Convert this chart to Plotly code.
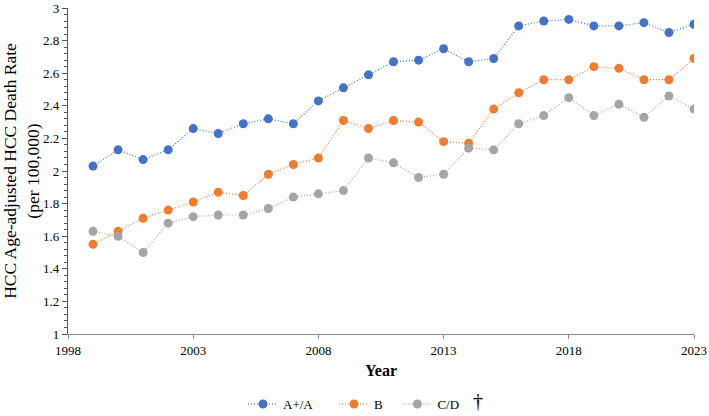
import plotly.graph_objects as go

years = list(range(1999, 2024))
a_vals = [2.03, 2.13, 2.07, 2.13, 2.26, 2.23, 2.29, 2.32, 2.29, 2.43, 2.51,
          2.59, 2.67, 2.68, 2.75, 2.67, 2.69, 2.89, 2.92, 2.93, 2.89, 2.89, 2.91, 2.85, 2.90]
b_vals = [1.55, 1.63, 1.71, 1.76, 1.81, 1.87, 1.85, 1.98, 2.04, 2.08, 2.31,
          2.26, 2.31, 2.30, 2.18, 2.17, 2.38, 2.48, 2.56, 2.56, 2.64, 2.63, 2.56, 2.56, 2.69]
cd_vals = [1.63, 1.60, 1.50, 1.68, 1.72, 1.73, 1.73, 1.77, 1.84, 1.86, 1.88,
           2.08, 2.05, 1.96, 1.98, 2.14, 2.13, 2.29, 2.34, 2.45, 2.34, 2.41, 2.33, 2.46, 2.38]
series = [("A+/A", a_vals, "#4472C4"), ("B", b_vals, "#ED7D31"), ("C/D", cd_vals, "#A5A5A5")]
legend_pad = [5, 3, 0]

FONT = "Liberation Serif"
fig = go.Figure()
for (name, vals, col), pad in zip(series, legend_pad):
    fig.add_trace(go.Scatter(
        x=years, y=vals, name=name + "\u00a0" * pad,
        mode="lines+markers",
        line=dict(color=col, width=1.2, dash="1px,2px"),
        marker=dict(color=col, size=9),
    ))

fig.update_layout(
    width=709, height=416,
    margin=dict(l=68, r=15, t=8, b=82, autoexpand=False),
    paper_bgcolor="white", plot_bgcolor="white",
    font=dict(family=FONT, size=13, color="black"),
    showlegend=True,
    legend=dict(orientation="h", xref="container", yref="container",
                x=243/709, y=1-404/416, xanchor="left", yanchor="middle",
                font=dict(family=FONT, size=13), itemwidth=30),
    annotations=[dict(text="†", xref="paper", yref="paper", x=(478-68)/626, y=-(401-334)/326,
                      xanchor="center", yanchor="middle",
                      showarrow=False, font=dict(family=FONT, size=20, color="black"))],
)
fig.update_xaxes(
    automargin=False,
    range=[1998, 2023], tickmode="linear", tick0=1998, dtick=5,
    showgrid=False, zeroline=False, showline=True, linecolor="#8c8c8c", linewidth=1.2,
    ticks="outside", ticklen=4, tickcolor="#8c8c8c",
    title=dict(text="<b>Year</b>", font=dict(family=FONT, size=16), standoff=8),
)
fig.update_yaxes(
    automargin=False,
    range=[1, 3], tickmode="linear", tick0=1, dtick=0.2,
    showgrid=False, zeroline=False, showline=True, linecolor="#555555", linewidth=1.2,
    ticks="outside", ticklen=5, tickcolor="#555555",
    minor=dict(dtick=0.04, ticks="outside", ticklen=3, tickcolor="#555555", showgrid=False),
    title=dict(text="HCC Age-adjusted HCC Death Rate<br>(per 100,000)",
               font=dict(family=FONT, size=17.5), standoff=4),
)
fig.write_html("out.html")
